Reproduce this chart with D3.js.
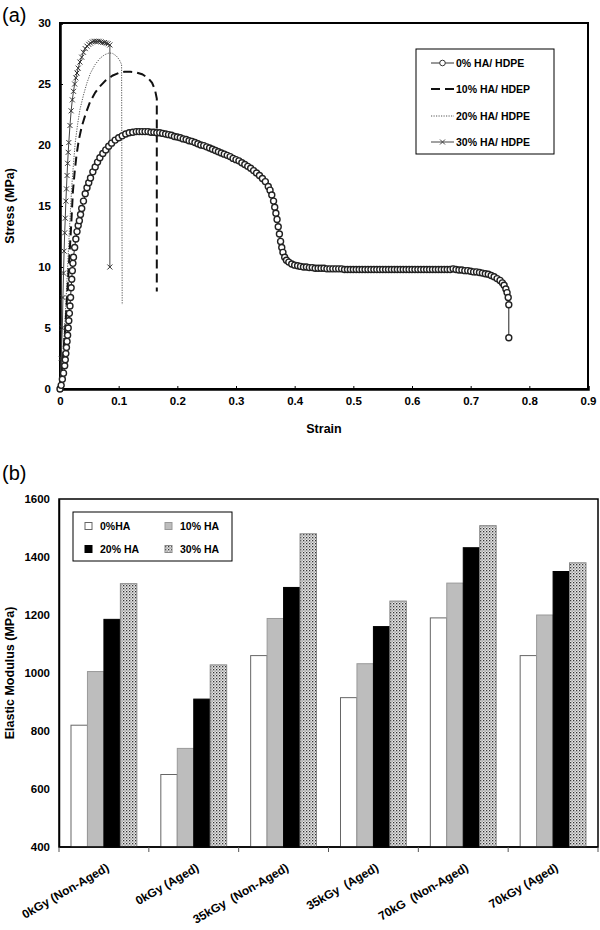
<!DOCTYPE html>
<html><head><meta charset="utf-8">
<script src="https://cdn.jsdelivr.net/npm/d3@7/dist/d3.min.js"></script>
<style>body{margin:0;background:#fff}svg{display:block;font-family:"Liberation Sans",Arial,sans-serif}</style>
</head><body>
<script>
// ---------- (a) stress-strain data ----------
const strain0 = [0.000,0.002,0.004,0.006,0.008,0.009,0.010,0.011,0.012,0.013,0.014,0.015,0.016,0.017,0.018,0.019,0.020,0.021,0.022,0.023,0.025,0.027,0.029,0.031,0.033,0.035,0.037,0.040,0.043,0.046,0.049,0.052,0.056,0.060,0.064,0.068,0.073,0.078,0.083,0.088,0.094,0.100,0.106,0.112,0.118,0.124,0.130,
0.135,0.140,0.145,0.150,0.155,0.160,0.165,0.170,0.175,0.180,0.185,0.190,0.195,0.200,0.205,0.210,0.215,0.220,0.225,0.230,0.235,0.240,0.245,0.250,0.255,0.260,0.265,0.270,0.275,0.280,0.285,0.290,0.295,0.300,0.305,0.310,0.315,0.320,0.325,0.330,0.335,0.340,0.345,0.350,0.355,0.358,0.361,0.364,0.366,0.368,0.370,0.372,0.374,0.376,0.378,0.380,0.383,0.386,0.390,0.395,0.400,0.405,0.410,0.415,0.420,
0.425,0.430,0.435,0.440,0.445,0.450,0.455,0.460,0.465,0.470,0.475,0.480,0.485,0.490,0.495,0.500,0.505,0.510,0.515,0.520,0.525,0.530,0.535,0.540,0.545,0.550,0.555,0.560,0.565,0.570,0.575,0.580,0.585,0.590,0.595,0.600,0.605,0.610,0.615,0.620,0.625,0.630,0.635,0.640,0.645,0.650,0.655,0.660,0.665,
0.670,0.675,0.680,0.685,0.690,0.695,0.700,0.705,0.710,0.715,0.720,0.725,0.730,0.735,0.740,0.745,0.750,0.754,0.757,0.760,0.762,0.764,0.765,0.765];
const stress0 = [0,0.3,0.8,1.3,1.9,2.4,2.9,3.4,3.9,4.4,5.0,5.6,6.2,6.8,7.5,8.3,9.0,9.7,10.3,10.8,11.6,12.3,12.9,13.4,13.8,14.3,14.8,15.4,16.0,16.5,16.9,17.3,17.8,18.2,18.6,18.95,19.3,19.6,19.9,20.15,20.4,20.6,20.75,20.9,21.0,21.05,21.1,
21.1,21.1,21.1,21.1,21.05,21.05,21.0,21.0,20.95,20.9,20.85,20.8,20.7,20.65,20.6,20.5,20.45,20.35,20.3,20.2,20.1,20.0,19.95,19.85,19.75,19.65,19.55,19.45,19.35,19.25,19.15,19.05,18.9,18.8,18.7,18.55,18.4,18.25,18.1,17.9,17.7,17.5,17.25,17.0,16.6,16.3,15.9,15.4,14.9,14.4,13.9,13.3,12.7,12.1,11.6,11.2,10.8,10.55,10.4,10.25,10.15,10.1,10.05,10.0,10.0,
9.95,9.95,9.9,9.9,9.9,9.9,9.85,9.85,9.85,9.85,9.85,9.85,9.8,9.8,9.8,9.8,9.8,9.8,9.8,9.8,9.8,9.8,9.8,9.8,9.8,9.8,9.8,9.8,9.8,9.8,9.8,9.8,9.8,9.8,9.8,9.8,9.8,9.8,9.8,9.8,9.8,9.8,9.8,9.8,9.8,9.8,9.8,9.8,9.8,
9.85,9.8,9.75,9.75,9.7,9.7,9.65,9.6,9.6,9.55,9.5,9.45,9.4,9.3,9.2,9.05,8.9,8.7,8.5,8.2,7.9,7.5,6.9,4.2];

const strain10 = [0,0.005,0.009,0.012,0.015,0.018,0.020,0.022,0.025,0.028,0.032,0.037,0.044,0.051,0.060,0.068,0.078,0.090,0.100,0.110,0.120,0.130,0.140,0.150,0.157,0.162,0.165,0.165];
const stress10 = [0,2.5,5,7.5,10,12.5,14.3,16.2,17.8,19.1,20.4,21.5,22.6,23.5,24.3,24.8,25.3,25.7,25.9,26.0,26.0,25.95,25.8,25.5,25.1,24.5,23.8,8.0];

const strain20 = [0,0.005,0.009,0.012,0.014,0.016,0.018,0.020,0.023,0.026,0.030,0.034,0.040,0.046,0.052,0.060,0.068,0.076,0.084,0.090,0.096,0.101,0.105,0.106];
const stress20 = [0,3,6,9,11,13,14.8,16.6,18.5,20.2,21.7,22.9,24.1,25.1,25.9,26.6,27.1,27.4,27.55,27.5,27.3,27.0,26.6,6.9];

const strain30 = [0,0.002,0.004,0.005,0.006,0.007,0.008,0.009,0.010,0.011,0.012,0.013,0.014,0.015,0.017,0.019,0.021,0.023,0.025,0.027,0.029,0.031,0.034,0.037,0.040,0.043,0.046,0.049,0.052,0.055,0.058,0.061,0.064,0.067,0.070,0.073,0.076,0.079,0.082,0.085,0.085];
const stress30 = [0,2.5,5,7.5,9.5,11.3,12.8,14.0,15.4,16.4,17.5,18.5,19.4,20.2,21.6,22.8,23.7,24.4,25.0,25.5,25.9,26.3,26.8,27.2,27.6,27.9,28.1,28.25,28.35,28.45,28.5,28.5,28.5,28.5,28.45,28.4,28.4,28.35,28.3,28.2,10.0];

const seriesA = ["0% HA/ HDPE","10% HA/ HDEP","20% HA/ HDPE","30% HA/ HDPE"];
const xTicksA = [0,0.1,0.2,0.3,0.4,0.5,0.6,0.7,0.8,0.9];
const yTicksA = [0,5,10,15,20,25,30];

// ---------- (b) elastic modulus data ----------
const categories = ["0kGy (Non-Aged)","0kGy (Aged)","35kGy  (Non-Aged)","35kGy  (Aged)","70kG  (Non-Aged)","70kGy (Aged)"];
const seriesB = ["0%HA","10% HA","20% HA","30% HA"];
const ha0  = [820, 650, 1060, 915, 1190, 1060];
const ha10 = [1005, 740, 1188, 1032, 1310, 1200];
const ha20 = [1185, 910, 1295, 1160, 1432, 1350];
const ha30 = [1308, 1028, 1480, 1248, 1508, 1380];
const yTicksB = [400,600,800,1000,1200,1400,1600];

const svg = d3.select("body").append("svg").attr("width",600).attr("height",930);
svg.append("rect").attr("width",600).attr("height",930).attr("fill","#fff");

const defs = svg.append("defs");
const pat = defs.append("pattern").attr("id","dots").attr("patternUnits","userSpaceOnUse").attr("width",3).attr("height",3);
pat.append("rect").attr("width",3).attr("height",3).attr("fill","#e6e6e6");
pat.append("rect").attr("width",1.3).attr("height",1.3).attr("fill","#333");
pat.append("rect").attr("x",1.5).attr("y",1.5).attr("width",1.2).attr("height",1.2).attr("fill","#777");

// ================= (a) =================
const xA = d3.scaleLinear().domain([0,0.9]).range([60,588]);
const yA = d3.scaleLinear().domain([0,30]).range([389,23]);
const gA = svg.append("g");

gA.append("text").attr("x",2).attr("y",22).attr("font-size",20).text("(a)");

gA.append("rect").attr("x",xA(0)).attr("y",yA(30)).attr("width",xA(0.9)-xA(0)).attr("height",yA(0)-yA(30))
  .attr("fill","none").attr("stroke","#000").attr("stroke-width",2);

const axXA = d3.axisBottom(xA).tickValues(xTicksA).tickSize(-3).tickPadding(8).tickFormat(d=>d===0?"0":d3.format(".1f")(d));
const gxA = gA.append("g").attr("transform",`translate(0,${yA(0)})`).call(axXA);
gxA.select(".domain").attr("stroke-width",2.5);
gxA.selectAll("text").attr("font-size",11.5).attr("font-weight","bold").attr("fill","#000");
const axYA = d3.axisLeft(yA).tickValues(yTicksA).tickSize(-3).tickPadding(9);
const gyA = gA.append("g").attr("transform",`translate(${xA(0)},0)`).call(axYA);
gyA.select(".domain").attr("stroke-width",2.5);
gyA.selectAll("text").attr("font-size",11.5).attr("font-weight","bold").attr("fill","#000");

gA.append("text").attr("x",324).attr("y",433).attr("text-anchor","middle").attr("font-size",12.5).attr("font-weight","bold").text("Strain");
gA.append("text").attr("transform",`translate(14,206) rotate(-90)`).attr("text-anchor","middle").attr("font-size",12.5).attr("font-weight","bold").text("Stress (MPa)");

const zip = (a,b)=>a.map((v,i)=>[v,b[i]]);
const line = d3.line().x(d=>xA(d[0])).y(d=>yA(d[1]));
const d0 = zip(strain0,stress0), d10 = zip(strain10,stress10), d20 = zip(strain20,stress20), d30 = zip(strain30,stress30);

gA.append("path").attr("d",line(d20)).attr("fill","none").attr("stroke","#555").attr("stroke-width",1).attr("stroke-dasharray","1.2,1.3");
gA.append("path").attr("d",line(d10)).attr("fill","none").attr("stroke","#111").attr("stroke-width",2).attr("stroke-dasharray","9,5");
gA.append("path").attr("d",line(d30)).attr("fill","none").attr("stroke","#444").attr("stroke-width",1);
const cross = "M-2.5,-2.5L2.5,2.5M-2.5,2.5L2.5,-2.5";
gA.append("g").selectAll("path").data(d30).join("path")
  .attr("transform",d=>`translate(${xA(d[0])},${yA(d[1])})`).attr("d",cross)
  .attr("stroke","#333").attr("stroke-width",1).attr("fill","none");
gA.append("path").attr("d",line(d0)).attr("fill","none").attr("stroke","#222").attr("stroke-width",1);
gA.append("g").selectAll("circle").data(d0).join("circle")
  .attr("cx",d=>xA(d[0])).attr("cy",d=>yA(d[1])).attr("r",3)
  .attr("fill","#fff").attr("stroke","#222").attr("stroke-width",1.4);

const lgA = gA.append("g");
lgA.append("rect").attr("x",416).attr("y",49).attr("width",138).attr("height",105).attr("fill","#fff").attr("stroke","#000").attr("stroke-width",1);
const lgY = [63,89,116,142];
seriesA.forEach((s,i)=>{
  const y = lgY[i];
  const ln = lgA.append("line").attr("x1",431).attr("x2",454).attr("y1",y).attr("y2",y);
  if(i===0){ ln.attr("stroke","#333").attr("stroke-width",1);
    lgA.append("circle").attr("cx",442.5).attr("cy",y).attr("r",2.8).attr("fill","#fff").attr("stroke","#333"); }
  if(i===1){ ln.attr("stroke","#111").attr("stroke-width",2).attr("stroke-dasharray","9,5"); }
  if(i===2){ ln.attr("stroke","#555").attr("stroke-width",1).attr("stroke-dasharray","1.2,1.3"); }
  if(i===3){ ln.attr("stroke","#444").attr("stroke-width",1);
    lgA.append("path").attr("transform",`translate(442.5,${y})`).attr("d",cross).attr("stroke","#444").attr("fill","none"); }
  lgA.append("text").attr("x",456).attr("y",y+4).attr("font-size",10.5).attr("font-weight","bold").text(s);
});

// ================= (b) =================
const gB = svg.append("g");
gB.append("text").attr("x",2).attr("y",480).attr("font-size",20).text("(b)");

const xB = d3.scaleBand().domain(categories).range([59,598]).paddingInner(0.267).paddingOuter(0.1335);
const xS = d3.scaleBand().domain(seriesB).range([0,xB.bandwidth()]).padding(0);
const yB = d3.scaleLinear().domain([400,1600]).range([847,499]);

gB.append("rect").attr("x",59).attr("y",yB(1600)).attr("width",598-59).attr("height",yB(400)-yB(1600))
  .attr("fill","none").attr("stroke","#000").attr("stroke-width",1.5);

const fills = ["#fff","#bdbdbd","#000","url(#dots)"];
const strokes = ["#666","#999","#000","#888"];
const valsB = [ha0,ha10,ha20,ha30];
seriesB.forEach((s,si)=>{
  gB.append("g").selectAll("rect").data(categories).join("rect")
    .attr("x",c=>xB(c)+xS(s)).attr("width",xS.bandwidth())
    .attr("y",(c,ci)=>yB(valsB[si][ci])).attr("height",(c,ci)=>yB(400)-yB(valsB[si][ci]))
    .attr("fill",fills[si]).attr("stroke",strokes[si]).attr("stroke-width",1);
});

const axYB = d3.axisLeft(yB).tickValues(yTicksB).tickSize(0).tickPadding(9).tickFormat(d3.format("d"));
const gyB = gB.append("g").attr("transform",`translate(59,0)`).call(axYB);
gyB.select(".domain").attr("stroke-width",1.5);
gyB.selectAll("text").attr("font-size",11.5).attr("font-weight","bold").attr("fill","#000");

gB.append("line").attr("x1",59).attr("x2",598).attr("y1",847).attr("y2",847).attr("stroke","#000").attr("stroke-width",1.5);
const bounds = categories.map(c=>xB(c)-xB.step()*xB.paddingOuter()).concat([598]);
gB.append("g").selectAll("line").data(bounds).join("line")
  .attr("x1",d=>d).attr("x2",d=>d).attr("y1",847).attr("y2",852).attr("stroke","#555").attr("stroke-width",1);

gB.append("g").selectAll("text").data(categories).join("text")
  .attr("transform",c=>`translate(${xB(c)+xB.bandwidth()/2+6},${870}) rotate(-30)`)
  .attr("text-anchor","end").attr("font-size",12).attr("font-weight","bold")
  .style("white-space","pre").text(c=>c);

gB.append("text").attr("transform",`translate(14,673) rotate(-90)`).attr("text-anchor","middle").attr("font-size",12.5).attr("font-weight","bold").text("Elastic Modulus (MPa)");

const lgB = gB.append("g");
lgB.append("rect").attr("x",73).attr("y",512).attr("width",159).attr("height",49).attr("fill","#fff").attr("stroke","#000").attr("stroke-width",1);
const lgPos = [[85,526],[165,526],[85,549],[165,549]];
seriesB.forEach((s,i)=>{
  const [x,y] = lgPos[i];
  lgB.append("rect").attr("x",x).attr("y",y-3.5).attr("width",7).attr("height",7).attr("fill",fills[i]).attr("stroke",strokes[i]);
  lgB.append("text").attr("x",x+15).attr("y",y+4).attr("font-size",10.5).attr("font-weight","bold").text(s);
});
</script>
</body></html>
